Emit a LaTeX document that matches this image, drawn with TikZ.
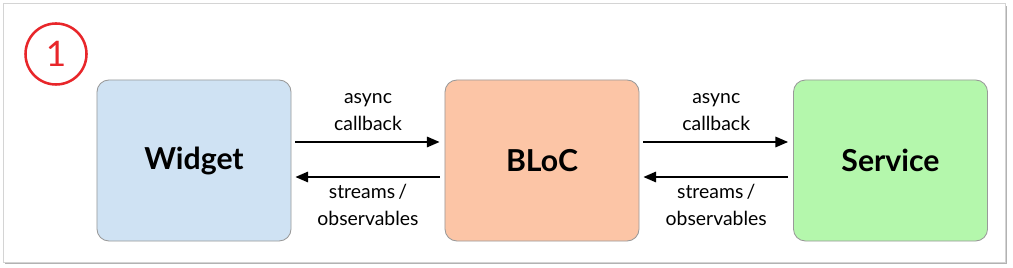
\documentclass[tikz,border=0pt]{standalone}
\usepackage{fontspec}
\setmainfont{Lato}
\usepackage{tikz}
\usetikzlibrary{arrows.meta,positioning}
\definecolor{ink}{HTML}{000000}
\definecolor{edge}{HTML}{999999}
\definecolor{frameline}{HTML}{D4D4D4}
\definecolor{widgetfill}{HTML}{CFE2F3}
\definecolor{blocfill}{HTML}{FCC5A6}
\definecolor{servicefill}{HTML}{B4F7AC}
\definecolor{marker}{HTML}{E8262A}

\begin{document}
\begin{tikzpicture}[x=0.025cm,y=-0.025cm,
  part/.style={rectangle,rounded corners=0.3cm,draw=edge,line width=0.6pt,
               minimum width=4.85cm,minimum height=4.025cm,inner sep=0pt,
               font=\fontsize{21.5}{25}\selectfont\bfseries},
  flow/.style={-{Triangle[length=9pt,width=7.5pt]},line width=1.1pt,ink},
  lbl/.style={font=\fontsize{13.8}{19}\selectfont,align=center,inner sep=0pt}
]
\useasboundingbox (0,0) rectangle (1013,268);
% card with shadow
\fill[black!30] (5,6) rectangle (1007,264);
\fill[white,draw=frameline,line width=0.5pt] (3,3) rectangle (1005,262);
% step marker
\node[circle,draw=marker,line width=1.8pt,minimum size=1.525cm,inner sep=0pt,
      text=marker,font=\fontsize{25}{25}\selectfont] (num) at (56,54) {1};
% parts
\node[part,fill=widgetfill] (widget) at (194,160.5) {Widget};
\node[part,fill=blocfill] (bloc) at (542,160.5) {BLoC};
\node[part,fill=servicefill] (service) at (890.5,160.5) {Service};
% calls and replies
\foreach \a/\b in {widget/bloc,bloc/service}{
  \draw[flow,shorten <=0.1cm,shorten >=0.125cm]
    ([yshift=0.4625cm]\a.east) -- ([yshift=0.4625cm]\b.west)
    node[lbl,midway,above=0.26cm] {async\\callback};
  \draw[flow,shorten <=0.125cm,shorten >=0.1cm]
    ([yshift=-0.4125cm]\b.west) -- ([yshift=-0.4125cm]\a.east)
    node[lbl,midway,below=0.16cm] {streams\,/\\observables};
}
\end{tikzpicture}
\end{document}
